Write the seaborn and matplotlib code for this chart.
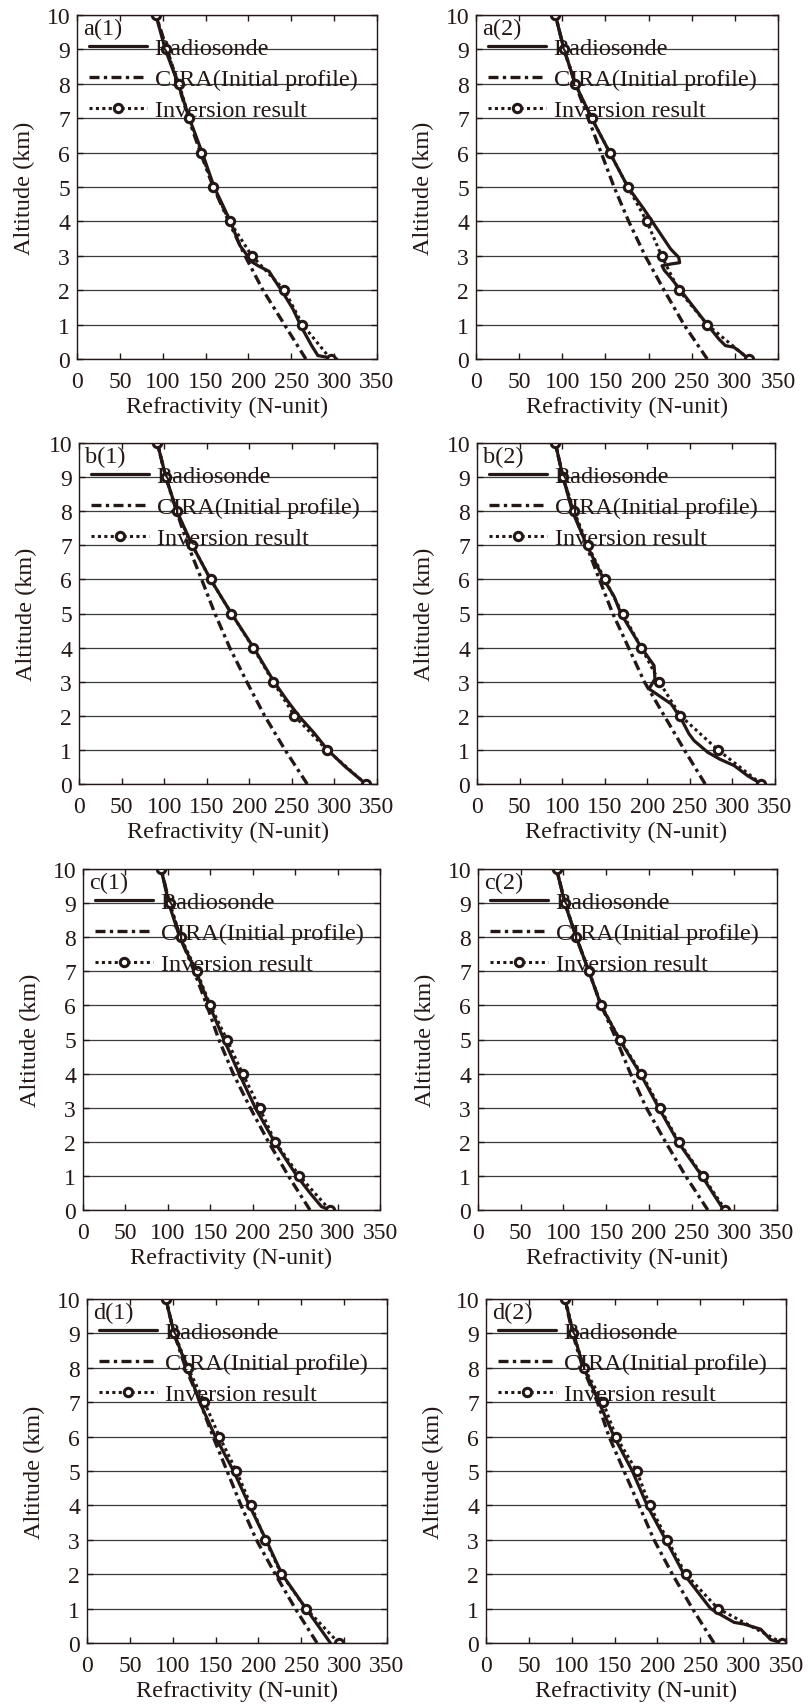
import numpy as np
import pandas as pd
import matplotlib
matplotlib.use("Agg")
import matplotlib.pyplot as plt
import seaborn as sns

# ---------------- data ----------------
ALT = [0, 1, 2, 3, 4, 5, 6, 7, 8, 9, 10]

A1_INV = [296, 263, 242, 204, 178, 159, 145, 131, 119, 104, 92]
A1_CIRA = [267, 242, 217, 196, 177, 159, 144, 130, 118, 105, 92]
A1_RS_ALT = [0, 0.1, 0.4, 0.92, 1.45, 1.9, 2.2, 2.55, 2.7, 2.9, 3.0, 3.3, 4, 5, 6, 7, 8, 9, 10]
A1_RS_N = [303, 281, 273.5, 262, 252, 241, 233, 224, 212, 199, 199, 190, 179, 160, 146, 131, 118, 103, 92]

A2_INV = [316, 268, 235, 215, 198, 176, 155, 134, 115, 102, 92]
A2_CIRA = [268, 241, 218, 196, 177, 160, 145, 130, 115, 102, 92]
A2_RS_ALT = [0, 0.19, 0.34, 0.39, 0.58, 1.0, 1.5, 2.0, 2.37, 2.57, 2.71, 2.76, 2.8, 2.95, 3.2, 3.78, 4.36, 5, 6, 7, 8, 9, 10]
A2_RS_N = [316, 307, 299, 289, 281.5, 268, 252.5, 237, 225.5, 218.5, 215.6, 225.5, 236, 235, 225.5, 210, 194.5, 176, 155, 134, 115, 102, 92]

B1_INV = [337, 291, 253, 228, 204.5, 179, 154.5, 133, 114.6, 102, 92]
B1_CIRA = [268, 242, 218, 197, 177, 159.6, 144, 128, 114.6, 102, 92]
B1_RS_ALT = [0, 0.5, 1, 1.5, 2, 2.5, 3, 4, 5, 6, 7, 8, 9, 10]
B1_RS_N = [337, 313, 292, 276, 258, 243, 229, 205, 179, 154.5, 133, 115, 102, 92]

B2_INV = [334, 283, 239, 214, 193, 171, 150, 130, 114, 101, 92]
B2_CIRA = [268, 243.5, 220, 196.5, 178, 159.4, 143.7, 128.5, 113, 101, 92]
B2_RS_ALT = [0, 0.24, 0.39, 0.54, 0.73, 0.93, 1.27, 1.47, 1.9, 2.35, 2.79, 3.08, 3.47, 4, 4.5, 5, 5.5, 6, 7, 8, 9, 10]
B2_RS_N = [334, 318, 310, 302, 285, 271, 255, 249, 240, 228, 202, 209, 208, 193, 181, 169, 161, 149, 129, 112, 101, 92]

C1_INV = [291, 255, 226.4, 208, 188, 169.5, 150, 134, 115, 102, 92]
C1_CIRA = [267.5, 242, 218.5, 197, 177, 160, 146, 131, 114.5, 102, 92]
C1_RS_ALT = [0, 0.1, 0.5, 1, 2, 3, 4, 5, 6, 7, 8, 9, 10]
C1_RS_N = [291, 281, 267.5, 252, 225.6, 203, 184, 166, 149, 133, 114, 101, 92]

C2_INV = [289.6, 263, 235, 212.8, 191.3, 166, 144.2, 129.8, 115, 101.7, 92]
C2_CIRA = [269, 243, 219.4, 197, 178.5, 162, 144.2, 129.8, 115, 102, 92]
C2_RS_ALT = [0, 1, 2, 3, 4, 5, 6, 7, 8, 9, 10]
C2_RS_N = [287.6, 262, 234, 211.5, 190, 165.5, 144, 129.8, 115, 101.5, 92]

D1_INV = [293.7, 255.5, 226.8, 208, 191.4, 174.2, 154.4, 137, 117.8, 102, 92]
D1_CIRA = [268.4, 243, 219.7, 197.6, 179.7, 163.4, 147, 132, 115, 101.5, 92]
D1_RS_ALT = [0, 1, 2, 3, 4, 5, 6, 7, 8, 9, 10]
D1_RS_N = [284, 255.5, 227.5, 208.9, 189.4, 171, 149.7, 131.5, 117, 101.5, 92]

D2_INV = [345.8, 270.7, 233, 211.6, 191, 175.8, 151.7, 136.5, 114.3, 102, 92.6]
D2_CIRA = [266, 240.8, 217.4, 196, 178.5, 161, 143.5, 130, 113, 101, 92]
D2_RS_ALT = [0, 0.1, 0.4, 0.55, 0.6, 0.85, 1, 2, 3, 4, 5, 6, 7, 8, 9, 10]
D2_RS_N = [345.8, 332, 320.5, 301, 289.4, 271.9, 262, 231, 209.6, 188, 170.7, 149.4, 131.8, 114, 102, 92]

PANEL_LABELS = ["a(1)", "a(2)", "b(1)", "b(2)", "c(1)", "c(2)", "d(1)", "d(2)"]
SERIES_LABELS = ["Radiosonde", "CIRA(Initial profile)", "Inversion result"]
X_TICKS = [0, 50, 100, 150, 200, 250, 300, 350]
Y_TICKS = [0, 1, 2, 3, 4, 5, 6, 7, 8, 9, 10]

PANELS = [
    (A1_RS_ALT, A1_RS_N, A1_CIRA, A1_INV),
    (A2_RS_ALT, A2_RS_N, A2_CIRA, A2_INV),
    (B1_RS_ALT, B1_RS_N, B1_CIRA, B1_INV),
    (B2_RS_ALT, B2_RS_N, B2_CIRA, B2_INV),
    (C1_RS_ALT, C1_RS_N, C1_CIRA, C1_INV),
    (C2_RS_ALT, C2_RS_N, C2_CIRA, C2_INV),
    (D1_RS_ALT, D1_RS_N, D1_CIRA, D1_INV),
    (D2_RS_ALT, D2_RS_N, D2_CIRA, D2_INV),
]

# axes boxes in pixels: left, top, right, bottom
BOXES = [
    (77, 16, 377, 360), (476, 16, 778, 360),
    (79, 444, 377, 785), (477, 444, 775, 785),
    (83, 870, 380, 1211), (478, 870, 777, 1211),
    (87, 1300, 387, 1644), (486, 1300, 786, 1644),
]

# ---------------- style ----------------
sns.set_theme(style="ticks")
plt.rcParams["font.family"] = ["Liberation Serif", "DejaVu Serif"]

W, H = 808, 1708
INK = "#231815"
GRID = "#3c3c3c"
FS = 17.5

fig = plt.figure(figsize=(W / 100, H / 100), dpi=100)
fig.patch.set_facecolor("white")

for (rs_alt, rs_n, cira, inv), (l, t, r, b), plab in zip(PANELS, BOXES, PANEL_LABELS):
    ax = fig.add_axes([l / W, 1 - b / H, (r - l) / W, (b - t) / H])
    ax.set_facecolor("white")
    ax.set_axisbelow(True)
    ax.yaxis.grid(True, color=GRID, lw=0.9)
    ax.xaxis.grid(False)

    sns.lineplot(x=rs_n, y=rs_alt, ax=ax, orient="y", sort=False, estimator=None,
                 color=INK, lw=2.3, label=SERIES_LABELS[0])
    sns.lineplot(x=cira, y=ALT, ax=ax, orient="y", sort=False, estimator=None,
                 color=INK, lw=2.4, linestyle=(0, (3, 1.3, 1, 1.3)), label=SERIES_LABELS[1])
    sns.lineplot(x=inv, y=ALT, ax=ax, orient="y", sort=False, estimator=None,
                 color=INK, lw=2.2, linestyle=(0, (1, 1.1)), marker="o", ms=6,
                 mfc="white", mec=INK, mew=2.2, label=SERIES_LABELS[2])

    ax.set_xlim(0, 350)
    ax.set_ylim(0, 10)
    ax.set_xticks(X_TICKS)
    ax.set_yticks(Y_TICKS)
    ax.tick_params(direction="in", top=True, right=True, length=4, width=1,
                   labelsize=17, colors=INK)
    ax.tick_params(axis="x", pad=9)
    ax.tick_params(axis="y", pad=5)
    for s in ax.spines.values():
        s.set_color(INK)
        s.set_linewidth(1.0)
    ax.set_xlabel("Refractivity (N-unit)", fontsize=FS, color=INK, labelpad=2.6)
    ax.set_ylabel("Altitude (km)", fontsize=FS, color=INK, labelpad=8)

    ax.legend(loc="upper left", bbox_to_anchor=(0.04, 0.935), frameon=False,
              fontsize=FS, handlelength=2.4, handletextpad=0.3, labelspacing=0.37,
              borderaxespad=0, borderpad=0, labelcolor=INK)
    ax.text(0.02, 0.993, plab, transform=ax.transAxes, va="top", ha="left",
            fontsize=FS, color=INK)

fig.savefig("out.png", dpi=100, facecolor="white")
